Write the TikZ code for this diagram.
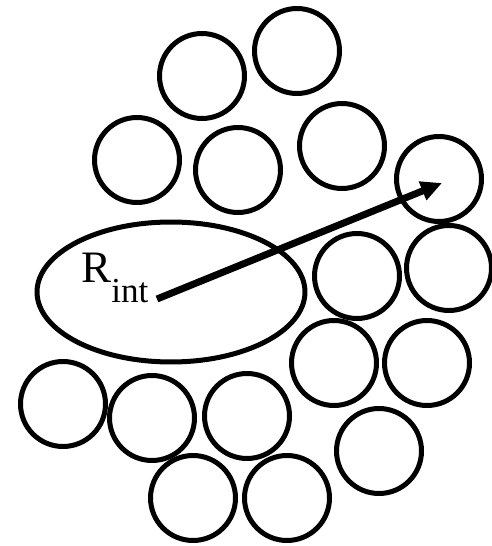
\documentclass[tikz,border=0pt]{standalone}
\usepackage{fontspec}
\setmainfont{Liberation Serif}
\usetikzlibrary{arrows.meta}
\begin{document}
\begin{tikzpicture}[x=0.02cm,y=-0.02cm]
  \useasboundingbox (0,0) rectangle (491,546);
  \foreach \i/\x/\y in {1/202/76,2/297/51,3/137/160,4/238/170,5/342/146,6/439/179,
      7/357/276,8/449/268,9/334/363,10/427/363,11/63/404,12/152/418,
      13/247/416,14/379/451,15/193/498,16/287/498} {
    \coordinate (P\i) at (\x,\y);
  }
  \foreach \i in {1,...,16}{\draw[line width=0.1cm] (P\i) circle[radius=0.85cm];}
  \coordinate (O) at (171,292);
  \draw[line width=0.1cm] (O) ellipse[x radius=2.68cm, y radius=1.4cm];
  \coordinate (S) at (157,299);
  \coordinate (T) at (442,183);
  \draw[line width=0.14cm, -{Triangle[length=0.42cm,width=0.38cm]}] (S) -- (T);
  \node[anchor=base west, inner sep=0pt, font=\fontsize{25.6}{30}\selectfont] (lbl) at (81,283)
    {R\raisebox{-0.4cm}{\fontsize{20}{24}\selectfont int}};
\end{tikzpicture}
\end{document}
